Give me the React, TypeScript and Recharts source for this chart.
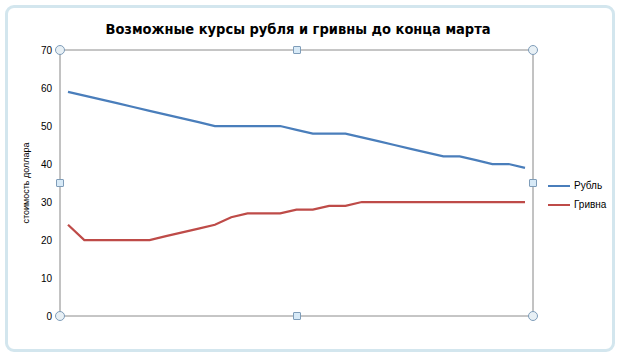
import { LineChart, Line, XAxis, YAxis, CartesianGrid, Label } from 'recharts'

const days = Array.from({ length: 29 }, (_, i) => String(i + 1))
const rubleValues = [59, 58, 57, 56, 55, 54, 53, 52, 51, 50, 50, 50, 50, 50, 49, 48, 48, 48, 47, 46, 45, 44, 43, 42, 42, 41, 40, 40, 39]
const hryvniaValues = [24, 20, 20, 20, 20, 20, 21, 22, 23, 24, 26, 27, 27, 27, 28, 28, 29, 29, 30, 30, 30, 30, 30, 30, 30, 30, 30, 30, 30]
const yTicks = [0, 10, 20, 30, 40, 50, 60, 70]

const SERIES = [
  { key: 'rub', name: 'Рубль', color: '#4a7ebb' },
  { key: 'uah', name: 'Гривна', color: '#be4b48' },
]

const data = days.map((d, i) => ({ day: d, rub: rubleValues[i], uah: hryvniaValues[i] }))

const FONT = '"Liberation Sans", Arial, sans-serif'

// excel selection handles around the plot area
const PLOT = { left: 60, top: 50, right: 533, bottom: 316 }

function Handle({ x, y, round }: { x: number; y: number; round: boolean }) {
  const s = round ? 10 : 8
  return (
    <div
      style={{
        position: 'absolute',
        left: x - s / 2,
        top: y - s / 2,
        width: s - 2,
        height: s - 2,
        border: '1px solid #7f9db9',
        borderRadius: round ? '50%' : 1,
        background: round ? '#e8f0f5' : '#d8eaf7',
      }}
    />
  )
}

function ChartLegend() {
  return (
    <div style={{ position: 'absolute', left: 548, top: 176, fontFamily: FONT, fontSize: 10, color: '#000' }}>
      {SERIES.map((s) => (
        <div key={s.key} style={{ display: 'flex', alignItems: 'center', height: 19 }}>
          <span style={{ display: 'inline-block', width: 22, height: 2, background: s.color, marginRight: 4 }} />
          {s.name}
        </div>
      ))}
    </div>
  )
}

export default function App() {
  const midX = (PLOT.left + PLOT.right) / 2
  const midY = (PLOT.top + PLOT.bottom) / 2
  return (
    <div style={{ position: 'fixed', left: 0, top: 0, width: 620, height: 357, background: '#fff', overflow: 'hidden' }}>
      {/* chart frame */}
      <div
        style={{
          position: 'absolute',
          left: 5,
          top: 5,
          width: 604,
          height: 341,
          border: '3px solid #d3e6ee',
          borderRadius: 9,
          background: '#fff',
        }}
      />
      <div
        style={{
          position: 'absolute',
          left: 0,
          top: 21,
          width: 596,
          textAlign: 'center',
          fontFamily: '"DejaVu Sans Condensed", "DejaVu Sans", sans-serif',
          fontWeight: 'bold',
          fontSize: 14.5,
          color: '#000',
        }}
      >
        Возможные курсы рубля и гривны до конца марта
      </div>
      <div style={{ position: 'absolute', left: 0, top: 0 }}>
        <LineChart width={620} height={357} data={data} margin={{ top: 50, right: 86, bottom: 41, left: 0 }}>
          <CartesianGrid vertical={false} stroke="#8c8c8c" />
          <XAxis dataKey="day" tick={false} tickLine={false} axisLine={{ stroke: '#868686' }} padding={{ left: 8, right: 8 }} height={0} />
          <YAxis
            yAxisId="left"
            domain={[0, 70]}
            ticks={yTicks}
            interval={0}
            width={60}
            tickLine={false}
            axisLine={{ stroke: '#868686' }}
            tick={{ fontSize: 10, fill: '#000', fontFamily: FONT }}
          >
            <Label
              value="стоимость доллара"
              angle={-90}
              position="insideLeft"
              offset={26}
              style={{ fontSize: 9, fill: '#000', fontFamily: FONT, textAnchor: 'middle' }}
            />
          </YAxis>
          <YAxis yAxisId="right" orientation="right" domain={[0, 70]} width={1} tick={false} tickLine={false} axisLine={{ stroke: '#868686' }} />
          {SERIES.map((s) => (
            <Line
              key={s.key}
              yAxisId="left"
              type="linear"
              dataKey={s.key}
              name={s.name}
              stroke={s.color}
              strokeWidth={2.25}
              dot={false}
              isAnimationActive={false}
            />
          ))}
        </LineChart>
      </div>
      <ChartLegend />
      <Handle x={PLOT.left} y={PLOT.top} round />
      <Handle x={PLOT.right} y={PLOT.top} round />
      <Handle x={PLOT.left} y={PLOT.bottom} round />
      <Handle x={PLOT.right} y={PLOT.bottom} round />
      <Handle x={midX} y={PLOT.top} round={false} />
      <Handle x={midX} y={PLOT.bottom} round={false} />
      <Handle x={PLOT.left} y={midY} round={false} />
      <Handle x={PLOT.right} y={midY} round={false} />
    </div>
  )
}
